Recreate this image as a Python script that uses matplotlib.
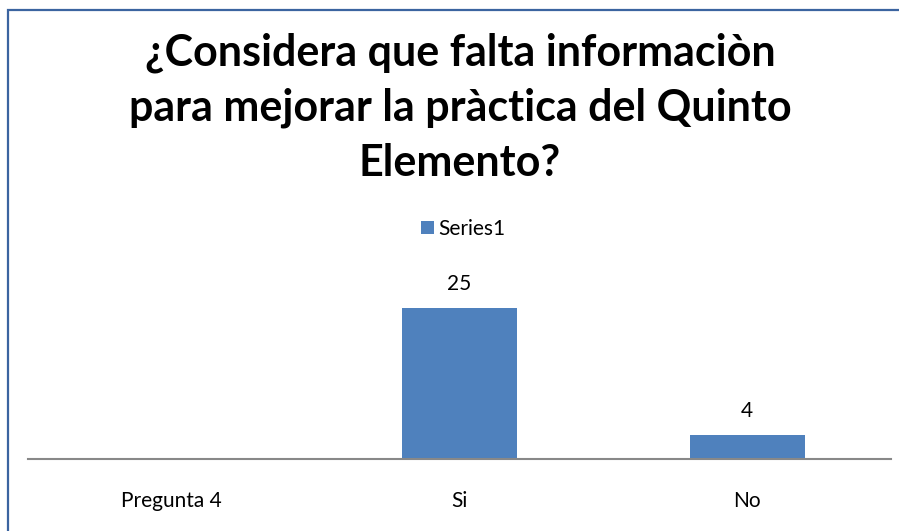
import matplotlib
matplotlib.use("Agg")
import matplotlib.pyplot as plt
from matplotlib.patches import Rectangle

categories = ["Pregunta 4", "Si", "No"]
values = [0, 25, 4]
series_name = "Series1"
title = "¿Considera que falta informaciòn\npara mejorar la pràctica del Quinto\nElemento?"

BAR_COLOR = "#4f81bd"
W, H = 899, 531

fig = plt.figure(figsize=(W / 100, H / 100), dpi=100)
fig.patch.set_facecolor("white")

# chart frame (only left/top visible in the crop)
fig.patches.append(Rectangle((8 / W, -0.1), 1.2, 1 - 10 / H + 0.1,
                             transform=fig.transFigure, fill=False,
                             edgecolor="#3b64a0", linewidth=1.6))

# axes: x from 28 to 891 px, baseline at y=459, ylim top at y=278
ax = fig.add_axes([28 / W, 1 - 459 / H, (891 - 28) / W, (459 - 278) / H])
x = range(len(categories))
bars = ax.bar(x, values, width=0.4, color=BAR_COLOR, label=series_name)
ax.set_xlim(-0.5, 2.5)
ax.set_ylim(0, 30)

for spine in ["top", "right", "left"]:
    ax.spines[spine].set_visible(False)
ax.spines["bottom"].set_color("#888888")
ax.spines["bottom"].set_linewidth(1.5)
ax.set_yticks([])
ax.set_xticks(list(x))
ax.set_xticklabels(categories, fontsize=15, family="Lato")
ax.tick_params(axis="x", length=0, pad=23)

for b, v in zip(bars, values):
    if v > 0:
        ax.annotate(str(v), (b.get_x() + b.get_width() / 2, v),
                    xytext=(0, 10), textcoords="offset points",
                    ha="center", va="bottom", fontsize=15, family="Lato")

fig.text(460 / W, 1 - 108 / H, title, ha="center", va="center",
         fontsize=31, fontweight="bold", family="Lato", linespacing=1.45)

leg = fig.legend(handles=[bars], labels=[series_name], loc="center",
                 bbox_to_anchor=(463 / W, 1 - 229 / H), frameon=False,
                 prop={"family": "Lato", "size": 15},
                 handlelength=0.6, handleheight=0.6, handletextpad=0.2)

fig.savefig("out.png", dpi=100)
